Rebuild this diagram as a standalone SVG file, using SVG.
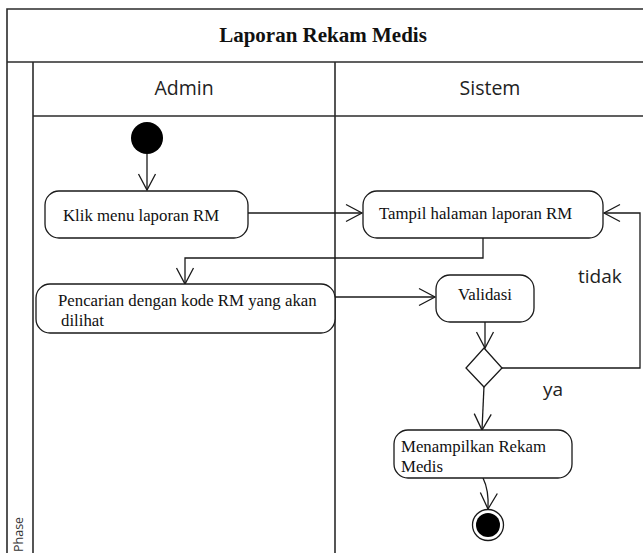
<svg xmlns="http://www.w3.org/2000/svg" width="643" height="553" viewBox="0 0 643 553">
  <style>
    .frame { fill: none; stroke: #2b2b2b; stroke-width: 1.6; }
    .node { fill: #ffffff; stroke: #1a1a1a; stroke-width: 1.3; }
    .label { font-family: "Liberation Serif", "Times New Roman", serif; font-size: 16.8px; fill: #111; }
    .lane { font-family: "Open Sans", "Noto Sans", sans-serif; font-size: 19.5px; fill: #222; text-anchor: middle; }
    .guard { font-family: "Open Sans", "Noto Sans", sans-serif; font-size: 19px; fill: #222; }
    .flow { fill: none; stroke: #1a1a1a; stroke-width: 1.3; marker-end: url(#open); }
  </style>
  <defs>
    <marker id="open" viewBox="0 0 20 20" refX="18" refY="10" markerWidth="20" markerHeight="20" markerUnits="userSpaceOnUse" orient="auto">
      <path d="M2,1.5 L18,10 L2,18.5" fill="none" stroke="#1a1a1a" stroke-width="1.3"/>
    </marker>
  </defs>

  <rect width="643" height="553" fill="#ffffff"/>

  <!-- swimlane frame -->
  <g id="frame">
    <path class="frame" d="M7,560 V9 H650"/>
    <line class="frame" x1="7" y1="62" x2="650" y2="62"/>
    <line class="frame" x1="33" y1="62" x2="33" y2="560"/>
    <line class="frame" x1="33" y1="116" x2="650" y2="116"/>
    <line class="frame" x1="335" y1="62" x2="335" y2="560"/>
    <text x="323" y="42" text-anchor="middle" font-family="Liberation Serif, serif" font-weight="bold" font-size="21" fill="#111">Laporan Rekam Medis</text>
    <text class="lane" x="184" y="95">Admin</text>
    <text class="lane" x="490" y="95">Sistem</text>
    <text transform="translate(23,552) rotate(-90)" font-family="Open Sans, Noto Sans, sans-serif" font-size="12.5" fill="#333">Phase</text>
  </g>

  <!-- connectors -->
  <g id="connectors">
    <path class="flow" d="M147,154 V190"/>
    <path class="flow" d="M248,213 H362"/>
    <path class="flow" d="M483,238 V258 H185 V284"/>
    <path class="flow" d="M335,297 H435"/>
    <path class="flow" d="M485,322 V348"/>
    <path class="flow" d="M502,368 H640 V213 H604"/>
    <path class="flow" d="M484,386 L482,430"/>
    <path class="flow" d="M483,478 Q489,490 488,509"/>
    <text class="guard" x="578" y="283">tidak</text>
    <text class="guard" x="543" y="396">ya</text>
  </g>

  <!-- nodes -->
  <g id="start">
    <circle cx="147" cy="138" r="16" fill="#000"/>
  </g>
  <g id="klik-menu">
    <rect class="node" x="45" y="191" width="203" height="47" rx="14"/>
    <text class="label" x="63" y="221">Klik menu laporan RM</text>
  </g>
  <g id="tampil-halaman">
    <rect class="node" x="363" y="191" width="240" height="47" rx="14"/>
    <text class="label" x="379" y="219">Tampil halaman laporan RM</text>
  </g>
  <g id="pencarian">
    <rect class="node" x="36" y="284" width="299" height="49" rx="14"/>
    <text class="label" x="58" y="306">Pencarian dengan kode RM yang akan</text>
    <text class="label" x="61" y="326">dilihat</text>
  </g>
  <g id="validasi">
    <rect class="node" x="436" y="275" width="98" height="47" rx="14"/>
    <text class="label" x="485" y="300" text-anchor="middle">Validasi</text>
  </g>
  <g id="decision">
    <polygon class="node" points="484,348 502,368 484,387 466,368"/>
  </g>
  <g id="menampilkan">
    <rect class="node" x="394" y="430" width="178" height="48" rx="14"/>
    <text class="label" x="401" y="452">Menampilkan Rekam</text>
    <text class="label" x="401" y="472">Medis</text>
  </g>
  <g id="end">
    <circle cx="488" cy="525" r="15.5" fill="#fff" stroke="#1a1a1a" stroke-width="1.3"/>
    <circle cx="488" cy="525" r="12" fill="#000"/>
  </g>
</svg>
